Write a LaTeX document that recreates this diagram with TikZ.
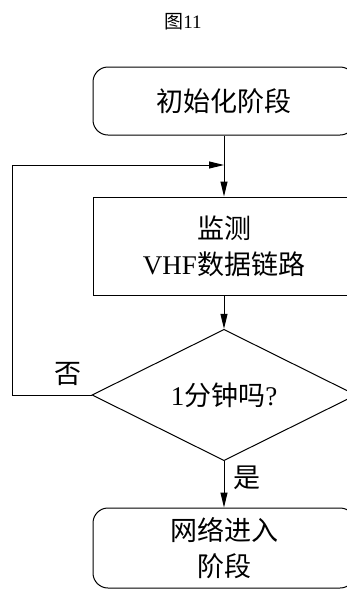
\documentclass[tikz,border=0pt]{standalone}
\usepackage{fontspec}
\setmainfont{Liberation Serif}
\newfontfamily\cjk{Noto Sans CJK SC}
\usetikzlibrary{shapes.geometric,arrows.meta}

\begin{document}
\begin{tikzpicture}[
	x=1pt, y=-1pt,
	box/.style={draw=black!100, line width=1pt, minimum width=262pt, inner sep=0pt, align=center, font=\fontsize{27}{36}\selectfont},
	roundbox/.style={box, rounded corners=15pt},
	dec/.style={diamond, draw=black!100, line width=1pt, inner sep=0pt, minimum width=264pt, minimum height=130pt, font=\fontsize{27}{32}\selectfont},
	lab/.style={inner sep=0pt, font=\fontsize{27}{32}\selectfont},
	arr/.style={line width=1pt, -{Triangle[length=15pt, width=7pt]}}
]

\useasboundingbox (0,0) rectangle (347,590);

\node[inner sep=0pt, font=\fontsize{19}{22}\selectfont] (nodeTitle) at (183,22) {{\cjk 图}11};

\node[roundbox, minimum height=68pt] (nodeInit) at (224,101) {\cjk 初始化阶段};
\node[box, minimum height=98pt] (nodeMon) at (224,246) {{\cjk 监测}\\VHF{\cjk 数据链路}};
\node[dec] (nodeDec) at (224,395) {1{\cjk 分钟吗}?};
\node[roundbox, minimum height=80pt] (nodeNet) at (224,548) {{\cjk 网络进入}\\{\cjk 阶段}};

\coordinate (joint) at (224,165);
\coordinate (loopCorner) at (12,395);

\draw[arr] (nodeInit) -- (nodeMon);
\draw[arr] (nodeMon) -- (nodeDec);
\draw[arr] (nodeDec) -- (nodeNet);
\draw[arr] (nodeDec.west) -- (loopCorner) |- (joint);

\node[lab] (nodeNo) at (68,374) {\cjk 否};
\node[lab] (nodeYes) at (247,478) {\cjk 是};
\end{tikzpicture}
\end{document}
